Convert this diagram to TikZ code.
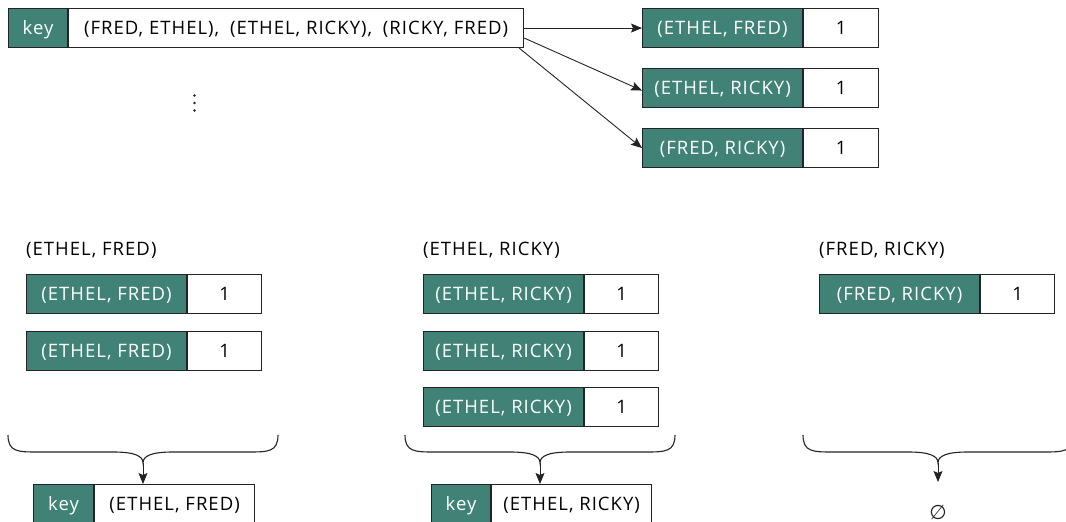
\documentclass[tikz,border=0pt]{standalone}
\usepackage{fontspec}
\setmainfont{Open Sans}[LetterSpace=5.5]
\newfontfamily\symfont{DejaVu Sans}
\usetikzlibrary{arrows.meta,calc}

\definecolor{cellgreen}{RGB}{64,131,118}
\definecolor{edge}{RGB}{35,35,35}

\begin{document}
\begin{tikzpicture}[x=1pt,y=-1pt,
  cell/.style={draw=edge, line width=1.1pt, minimum height=39pt, inner sep=0pt,
    text height=13pt, text depth=0pt,
    anchor=north west, font=\fontsize{18.5}{22}\selectfont},
  keycell/.style={cell, fill=cellgreen, text=white},
  valcell/.style={cell, fill=white, text=black},
  grouplabel/.style={anchor=base west, inner sep=0pt, font=\fontsize{18.5}{22}\selectfont},
  link/.style={draw=edge, line width=0.9pt, -{Stealth[length=11pt,width=9pt,inset=2pt]}},
  brace/.style={draw=edge, line width=1.1pt},
  pics/downbrace/.style={code={
    \draw[brace] (-135,0) .. controls (-135,17) and (-125,17) .. (-105,17)
      -- (-30,17) .. controls (-8,17) and (0,21) .. (0,28)
      .. controls (0,21) and (8,17) .. (30,17)
      -- (105,17) .. controls (125,17) and (135,17) .. (135,0);
  }}]
\useasboundingbox (0,0) rectangle (1066,522);

% input record: key with its list of pairs
\node[keycell, minimum width=59pt] (k0) at (8,8) {key};
\node[valcell, minimum width=455pt] (v0) at (k0.north east)
  {(FRED, ETHEL),\hspace{5pt} (ETHEL, RICKY),\hspace{5pt} (RICKY, FRED)};

% emitted pairs
\node[keycell, minimum width=160pt] (p1) at (642,8) {(ETHEL, FRED)};
\node[valcell, minimum width=75pt] (c1) at (p1.north east) {1};
\node[keycell, minimum width=160pt] (p2) at (642,68) {(ETHEL, RICKY)};
\node[valcell, minimum width=75pt] (c2) at (p2.north east) {1};
\node[keycell, minimum width=160pt] (p3) at (642,128) {(FRED, RICKY)};
\node[valcell, minimum width=75pt] (c3) at (p3.north east) {1};

\draw[link] (v0.east) -- (p1.west);
\draw[link] ([yshift=-10pt]v0.east) -- ([yshift=-2.5pt]p2.west);
\draw[link] ([xshift=-5pt]v0.south east) -- (p3.west);

% more input records
\fill[edge] (194.5,95.5) circle (1.4) (194.5,103) circle (1.4) (194.5,110.5) circle (1.4);

% grouped values per key
\node[grouplabel] (t1) at (26,255) {(ETHEL, FRED)};
\node[grouplabel] (t2) at (423,255) {(ETHEL, RICKY)};
\node[grouplabel] (t3) at (819,255) {(FRED, RICKY)};

\node[keycell, minimum width=160pt] (a1) at (26,274) {(ETHEL, FRED)};
\node[valcell, minimum width=74pt] (a1v) at (a1.north east) {1};
\node[keycell, minimum width=160pt] (b1) at (26,331) {(ETHEL, FRED)};
\node[valcell, minimum width=74pt] (b1v) at (b1.north east) {1};

\node[keycell, minimum width=160pt] (a2) at (423,274) {(ETHEL, RICKY)};
\node[valcell, minimum width=74pt] (a2v) at (a2.north east) {1};
\node[keycell, minimum width=160pt] (b2) at (423,330.5) {(ETHEL, RICKY)};
\node[valcell, minimum width=74pt] (b2v) at (b2.north east) {1};
\node[keycell, minimum width=160pt] (c2g) at (423,387) {(ETHEL, RICKY)};
\node[valcell, minimum width=74pt] (c2v) at (c2g.north east) {1};

\node[keycell, minimum width=160pt] (a3) at (819,274) {(FRED, RICKY)};
\node[valcell, minimum width=74pt] (a3v) at (a3.north east) {1};

% reduce step
\pic at (143,435) {downbrace};
\pic at (540,435) {downbrace};
\pic at (938,435) {downbrace};
\coordinate (m1) at (143,463);
\coordinate (m2) at (540,463);
\coordinate (m3) at (938,463);

\node[keycell, minimum width=60pt] (kb1) at (33,484) {key};
\node[valcell, minimum width=160pt] (vb1) at (kb1.north east) {(ETHEL, FRED)};
\node[keycell, minimum width=59pt] (kb2) at (431,484) {key};
\node[valcell, minimum width=160pt] (vb2) at (kb2.north east) {(ETHEL, RICKY)};
\node[inner sep=0pt, text=edge, font=\symfont\fontsize{20}{24}\selectfont] (none) at (938,512) {∅};
\coordinate (e3) at (938,482);

\draw[link] (m1) -- (m1 |- kb1.north);
\draw[link] (m2) -- (m2 |- kb2.north);
\draw[link] (m3) -- (e3);
\end{tikzpicture}
\end{document}
